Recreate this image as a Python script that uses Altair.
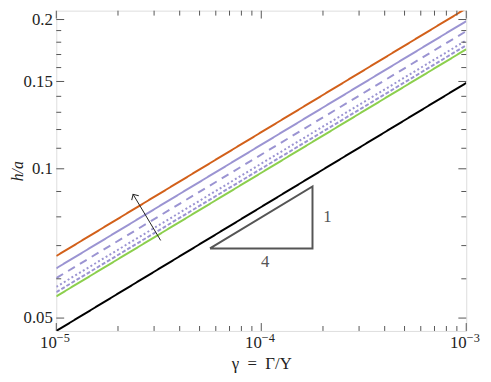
import altair as alt
import pandas as pd

# ---- data ----
x_ends = [1e-5, 1e-3]
series_names = ["orange", "purple_solid", "purple_dashed", "purple_dotted", "purple_shortdash", "green", "black"]
series_left = [0.0667, 0.0630, 0.0602, 0.0578, 0.0564, 0.0553, 0.0471]
series_right = [0.2106, 0.1985, 0.1895, 0.1815, 0.1775, 0.1742, 0.1490]
series_colors = ["#d2601a", "#9b94d2", "#9b94d2", "#9b94d2", "#9b94d2", "#8ccf4d", "#000000"]
series_dash = [[1, 0], [1, 0], [8, 6], [2, 2.5], [4, 2], [1, 0], [1, 0]]

y_major = [0.05, 0.1, 0.15, 0.2]
y_minor = [0.06, 0.07, 0.08, 0.09, 0.11, 0.12, 0.13, 0.14, 0.16, 0.17, 0.18, 0.19]
x_major = [1e-5, 1e-4, 1e-3]
x_major_base = ["10", "10", "10"]
x_major_exp = ["−5", "−4", "−3"]
x_minor = [2e-5, 3e-5, 4e-5, 5e-5, 6e-5, 7e-5, 8e-5, 9e-5,
           2e-4, 3e-4, 4e-4, 5e-4, 6e-4, 7e-4, 8e-4, 9e-4]

tri_x = [5.62e-5, 1.778e-4, 1.778e-4, 5.62e-5]
tri_y = [0.0691, 0.0691, 0.0921, 0.0691]

arrow_x = [3.23e-5, 2.37e-5]
arrow_y = [0.0717, 0.0888]

ann_text = ["1", "4"]
ann_x = [2.1e-4, 1.045e-4]
ann_y = [0.0800, 0.0649]

W, H = 416, 325
FONT = "Liberation Serif, Times New Roman, serif"
GRAY = "#555555"
TXT = "#222222"

xscale = alt.Scale(type="log", domain=[1e-5, 1e-3], nice=False)
yscale = alt.Scale(type="log", domain=[0.0471, 0.2084], nice=False)

xaxis = alt.Axis(values=x_major, labelExpr="'10'", ticks=False, domain=False, grid=False,
                 title="γ\u2002=\u2002Γ/Y", labelFont=FONT, labelFontSize=17, labelColor=TXT,
                 labelAlign="right", labelPadding=4, labelFlush=False, titleFont=FONT,
                 titleFontSize=17, titleFontWeight="normal", titleColor=TXT, titlePadding=5)
yaxis = alt.Axis(values=y_major, format="~g", ticks=False, domain=False, grid=False,
                 title="h/a", labelFont=FONT, labelFontSize=17, labelColor=TXT,
                 labelPadding=4, labelFlush=False, titleFont=FONT, titleFontSize=16,
                 titleFontStyle="italic", titleFontWeight="normal", titleColor=TXT,
                 titlePadding=-2)

layers = []
for name, l, r, c, d in zip(series_names, series_left, series_right, series_colors, series_dash):
    df = pd.DataFrame({"x": x_ends, "y": [l, r], "s": [name, name]})
    layers.append(
        alt.Chart(df).mark_line(color=c, strokeWidth=2, strokeDash=d, clip=True).encode(
            x=alt.X("x:Q", scale=xscale, axis=xaxis),
            y=alt.Y("y:Q", scale=yscale, axis=yaxis),
        )
    )

tri_df = pd.DataFrame({"x": tri_x, "y": tri_y, "o": list(range(len(tri_x)))})
layers.append(alt.Chart(tri_df).mark_line(color=GRAY, strokeWidth=2).encode(
    x=alt.X("x:Q", scale=xscale, axis=xaxis),
    y=alt.Y("y:Q", scale=yscale, axis=yaxis),
    order="o:Q"))

arr_df = pd.DataFrame({"x": arrow_x, "y": arrow_y, "o": [0, 1]})
layers.append(alt.Chart(arr_df).mark_line(color=TXT, strokeWidth=1).encode(
    x=alt.X("x:Q", scale=xscale, axis=xaxis),
    y=alt.Y("y:Q", scale=yscale, axis=yaxis),
    order="o:Q"))
head_df = pd.DataFrame({"x": arrow_x[1:], "y": arrow_y[1:]})
layers.append(alt.Chart(head_df).mark_point(shape="M -1 1 L 0 0 L 1 1", filled=False, size=70,
                                             angle=329, color=TXT, strokeWidth=1, opacity=1).encode(
    x=alt.X("x:Q", scale=xscale, axis=xaxis),
    y=alt.Y("y:Q", scale=yscale, axis=yaxis)))

ann_df = pd.DataFrame({"t": ann_text, "x": ann_x, "y": ann_y})
layers.append(alt.Chart(ann_df).mark_text(font=FONT, fontSize=17, color=GRAY).encode(
    x=alt.X("x:Q", scale=xscale, axis=xaxis),
    y=alt.Y("y:Q", scale=yscale, axis=yaxis),
    text="t:N"))

# exponents of the x tick labels
exp_df = pd.DataFrame({"x": x_major, "t": x_major_exp})
layers.append(alt.Chart(exp_df).mark_text(font=FONT, fontSize=12.5, color=TXT, align="left",
                                           baseline="alphabetic", dx=0.5).encode(
    x=alt.X("x:Q", scale=xscale, axis=xaxis),
    y=alt.value(H + 11),
    text="t:N"))

# inward ticks on all four sides
def yticks(vals, length):
    df = pd.DataFrame({"y": vals})
    left = alt.Chart(df).mark_rule(color=GRAY, strokeWidth=1).encode(
        y=alt.Y("y:Q", scale=yscale, axis=yaxis), x=alt.value(0), x2=alt.value(length))
    right = alt.Chart(df).mark_rule(color=GRAY, strokeWidth=1).encode(
        y=alt.Y("y:Q", scale=yscale, axis=yaxis), x=alt.value(W), x2=alt.value(W - length))
    return [left, right]

def xticks(vals, length):
    df = pd.DataFrame({"x": vals})
    bottom = alt.Chart(df).mark_rule(color=GRAY, strokeWidth=1).encode(
        x=alt.X("x:Q", scale=xscale, axis=xaxis), y=alt.value(H), y2=alt.value(H - length))
    top = alt.Chart(df).mark_rule(color=GRAY, strokeWidth=1).encode(
        x=alt.X("x:Q", scale=xscale, axis=xaxis), y=alt.value(0), y2=alt.value(length))
    return [bottom, top]

layers += yticks(y_major, 8) + yticks(y_minor, 5) + xticks(x_major, 8) + xticks(x_minor, 5)

chart = alt.layer(*layers).properties(
    width=W, height=H,
    autosize=alt.AutoSizeParams(type="none"),
    padding={"left": 49, "top": 0, "right": 17, "bottom": 41},
).configure_view(stroke=GRAY, strokeWidth=1.5).configure(background="white")

chart.save("out.html", embed_options={"renderer": "svg", "actions": False})
